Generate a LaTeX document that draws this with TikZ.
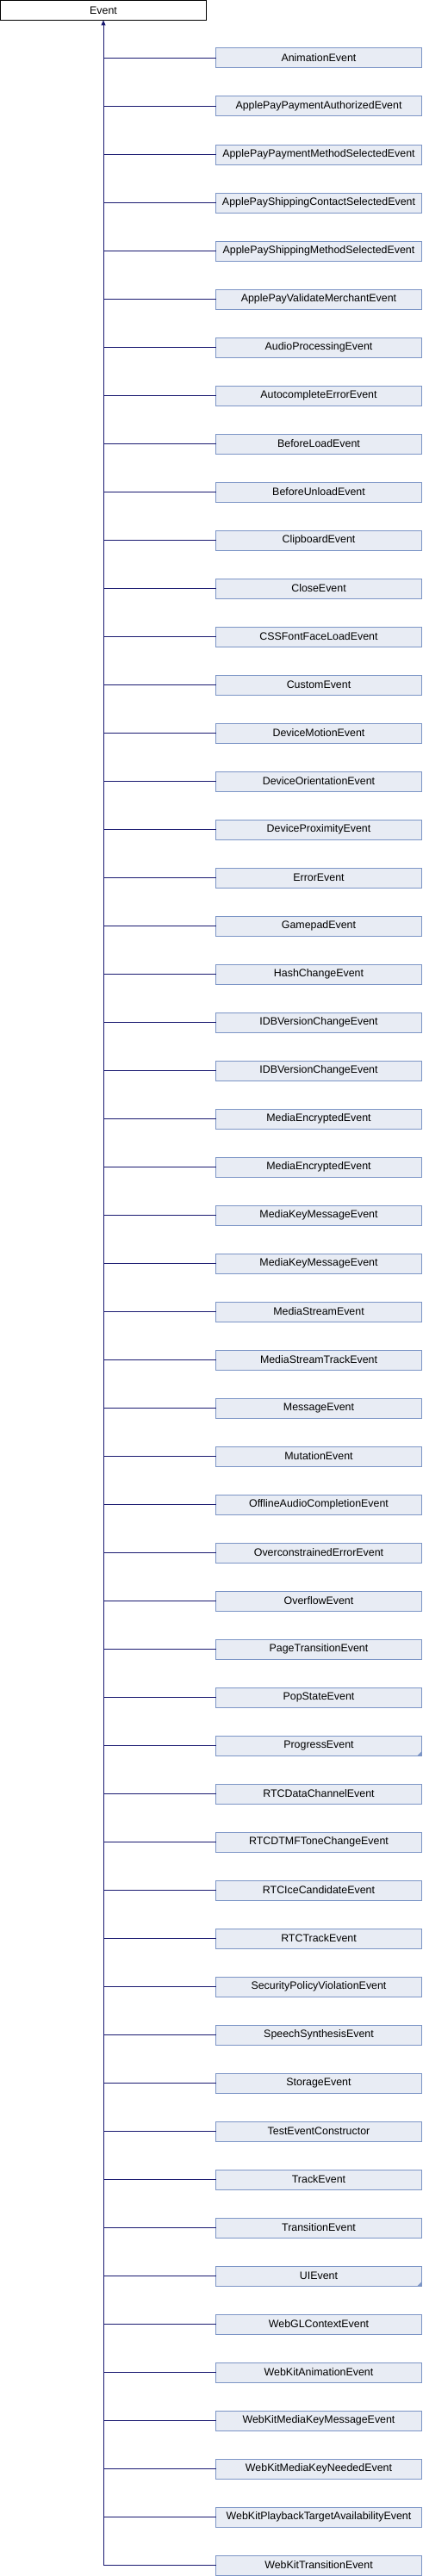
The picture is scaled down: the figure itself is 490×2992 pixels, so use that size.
\documentclass[tikz,border=0pt]{standalone}
\usepackage{fontspec}
\setmainfont{Liberation Sans}
\usetikzlibrary{arrows.meta}
\definecolor{edgeblue}{RGB}{25,25,112}
\definecolor{boxline}{RGB}{124,149,198}
\definecolor{boxfill}{RGB}{232,236,244}
\begin{document}
\begin{tikzpicture}[
        x=1pt, y=-1pt,
        font=\fontsize{12.4pt}{14pt}\selectfont,
        base/.style={rectangle, draw=black, fill=white, line width=1pt,
                minimum width=239pt, minimum height=23pt, inner sep=0pt, outer sep=0pt},
        derived/.style={base, draw=boxline, fill=boxfill},
        edge/.style={draw=edgeblue, line width=1pt}
    ]
    \useasboundingbox (0,0) rectangle (490,2992);
    \node[base] (event) at (120,12) {Event};
    \foreach \name [count=\i] in {
            AnimationEvent, ApplePayPaymentAuthorizedEvent,
            ApplePayPaymentMethodSelectedEvent, ApplePayShippingContactSelectedEvent,
            ApplePayShippingMethodSelectedEvent, ApplePayValidateMerchantEvent,
            AudioProcessingEvent, AutocompleteErrorEvent, BeforeLoadEvent,
            BeforeUnloadEvent, ClipboardEvent, CloseEvent, CSSFontFaceLoadEvent,
            CustomEvent, DeviceMotionEvent, DeviceOrientationEvent,
            DeviceProximityEvent, ErrorEvent, GamepadEvent, HashChangeEvent,
            IDBVersionChangeEvent, IDBVersionChangeEvent, MediaEncryptedEvent,
            MediaEncryptedEvent, MediaKeyMessageEvent, MediaKeyMessageEvent,
            MediaStreamEvent, MediaStreamTrackEvent, MessageEvent, MutationEvent,
            OfflineAudioCompletionEvent, OverconstrainedErrorEvent, OverflowEvent,
            PageTransitionEvent, PopStateEvent, ProgressEvent, RTCDataChannelEvent,
            RTCDTMFToneChangeEvent, RTCIceCandidateEvent, RTCTrackEvent,
            SecurityPolicyViolationEvent, SpeechSynthesisEvent, StorageEvent,
            TestEventConstructor, TrackEvent, TransitionEvent, UIEvent,
            WebGLContextEvent, WebKitAnimationEvent, WebKitMediaKeyMessageEvent,
            WebKitMediaKeyNeededEvent, WebKitPlaybackTargetAvailabilityEvent,
            WebKitTransitionEvent} {
            \node[derived] (c\i) at (370,67.5+56*\i-56) {\name};
            \coordinate (j\i) at (120,67.5+56*\i-56);
            \draw[edge] (j\i) -- (c\i.west);
        }
    % trunk with the inheritance arrow
    \draw[edge, -{Triangle[length=6pt,width=5pt]}] (j53) -- (event.south);
    % classes with further subclasses
    \fill[boxline] (c36.south east) -- ++(-5,0) -- ++(5,-5) -- cycle;
    \fill[boxline] (c47.south east) -- ++(-5,0) -- ++(5,-5) -- cycle;
\end{tikzpicture}
\end{document}
